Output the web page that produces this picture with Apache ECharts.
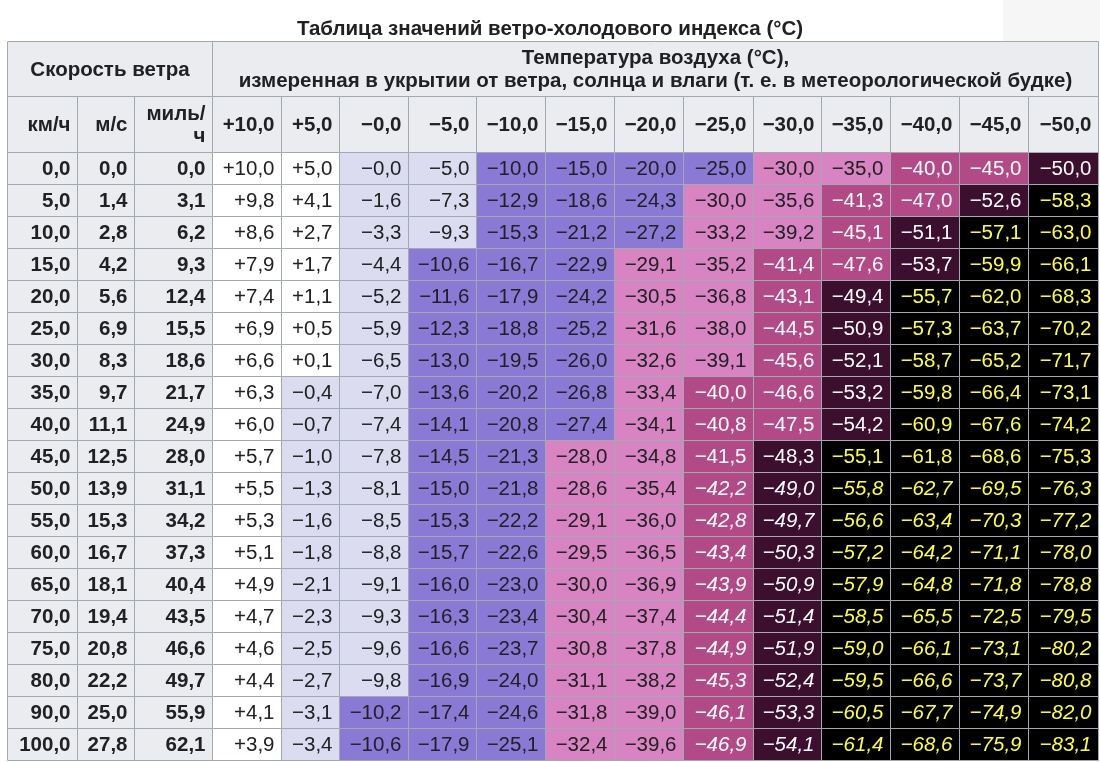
<!DOCTYPE html>
<html><head><meta charset="utf-8">
<script src="https://cdn.jsdelivr.net/npm/echarts@6/dist/echarts.min.js"></script>
<style>html,body{margin:0;padding:0;background:#fff}#c{width:1100px;height:762px}</style>
</head><body><div id="c"></div>
<script>
// ---- data ----
const titleText = 'Таблица значений ветро-холодового индекса (°C)';
const windHeader = 'Скорость ветра';
const tempHeader = 'Температура воздуха (°C),\nизмеренная в укрытии от ветра, солнца и влаги (т. е. в метеорологической будке)';
const unitLabels = ['км/ч', 'м/с', 'миль/\nч'];
const airTemps = [10, 5, -0, -5, -10, -15, -20, -25, -30, -35, -40, -45, -50];
const windKmh = [0, 5, 10, 15, 20, 25, 30, 35, 40, 45, 50, 55, 60, 65, 70, 75, 80, 90, 100];
const windMs = [0.0, 1.4, 2.8, 4.2, 5.6, 6.9, 8.3, 9.7, 11.1, 12.5, 13.9, 15.3, 16.7, 18.1, 19.4, 20.8, 22.2, 25.0, 27.8];
const windMph = [0.0, 3.1, 6.2, 9.3, 12.4, 15.5, 18.6, 21.7, 24.9, 28.0, 31.1, 34.2, 37.3, 40.4, 43.5, 46.6, 49.7, 55.9, 62.1];
const chill = [
  [10.0, 5.0, -0.0, -5.0, -10.0, -15.0, -20.0, -25.0, -30.0, -35.0, -40.0, -45.0, -50.0],
  [9.8, 4.1, -1.6, -7.3, -12.9, -18.6, -24.3, -30.0, -35.6, -41.3, -47.0, -52.6, -58.3],
  [8.6, 2.7, -3.3, -9.3, -15.3, -21.2, -27.2, -33.2, -39.2, -45.1, -51.1, -57.1, -63.0],
  [7.9, 1.7, -4.4, -10.6, -16.7, -22.9, -29.1, -35.2, -41.4, -47.6, -53.7, -59.9, -66.1],
  [7.4, 1.1, -5.2, -11.6, -17.9, -24.2, -30.5, -36.8, -43.1, -49.4, -55.7, -62.0, -68.3],
  [6.9, 0.5, -5.9, -12.3, -18.8, -25.2, -31.6, -38.0, -44.5, -50.9, -57.3, -63.7, -70.2],
  [6.6, 0.1, -6.5, -13.0, -19.5, -26.0, -32.6, -39.1, -45.6, -52.1, -58.7, -65.2, -71.7],
  [6.3, -0.4, -7.0, -13.6, -20.2, -26.8, -33.4, -40.0, -46.6, -53.2, -59.8, -66.4, -73.1],
  [6.0, -0.7, -7.4, -14.1, -20.8, -27.4, -34.1, -40.8, -47.5, -54.2, -60.9, -67.6, -74.2],
  [5.7, -1.0, -7.8, -14.5, -21.3, -28.0, -34.8, -41.5, -48.3, -55.1, -61.8, -68.6, -75.3],
  [5.5, -1.3, -8.1, -15.0, -21.8, -28.6, -35.4, -42.2, -49.0, -55.8, -62.7, -69.5, -76.3],
  [5.3, -1.6, -8.5, -15.3, -22.2, -29.1, -36.0, -42.8, -49.7, -56.6, -63.4, -70.3, -77.2],
  [5.1, -1.8, -8.8, -15.7, -22.6, -29.5, -36.5, -43.4, -50.3, -57.2, -64.2, -71.1, -78.0],
  [4.9, -2.1, -9.1, -16.0, -23.0, -30.0, -36.9, -43.9, -50.9, -57.9, -64.8, -71.8, -78.8],
  [4.7, -2.3, -9.3, -16.3, -23.4, -30.4, -37.4, -44.4, -51.4, -58.5, -65.5, -72.5, -79.5],
  [4.6, -2.5, -9.6, -16.6, -23.7, -30.8, -37.8, -44.9, -51.9, -59.0, -66.1, -73.1, -80.2],
  [4.4, -2.7, -9.8, -16.9, -24.0, -31.1, -38.2, -45.3, -52.4, -59.5, -66.6, -73.7, -80.8],
  [4.1, -3.1, -10.2, -17.4, -24.6, -31.8, -39.0, -46.1, -53.3, -60.5, -67.7, -74.9, -82.0],
  [3.9, -3.4, -10.6, -17.9, -25.1, -32.4, -39.6, -46.9, -54.1, -61.4, -68.6, -75.9, -83.1]
];

// ---- layout / style ----
const colWidths = [69.5, 57.5, 77.6, 69.1, 57.9, 69.1, 68.8, 68.5, 69, 69, 69.5, 68.5, 69, 69, 69, 70];
const rowHeights = [55, 56].concat(windKmh.map(() => 32));
const colEdges = [0]; colWidths.forEach(w => colEdges.push(colEdges[colEdges.length - 1] + w));
const rowEdges = [0]; rowHeights.forEach(h => rowEdges.push(rowEdges[rowEdges.length - 1] + h));
const FONT = '"Liberation Sans", Arial, sans-serif';
const FS = 20.5;
const HEAD_BG = '#eaecf0', BORDER = '#a2a9b1', INK = '#202122';
const classes = [
  { test: v => v > 0 && !Object.is(v, -0), bg: '#ffffff', fg: INK },
  { test: v => v > -10, bg: '#dcdcf0', fg: INK },
  { test: v => v > -27.7, bg: '#8a7ad6', fg: INK },
  { test: v => v > -39.95, bg: '#d884c2', fg: INK },
  { test: v => v > -48, bg: '#b24a88', fg: '#ffffff' },
  { test: v => v > -55, bg: '#3d0f2e', fg: '#ffffff' },
  { test: v => true, bg: '#000000', fg: '#ffff3c' }
];
const fmtSigned = v => {
  const s = Math.abs(v).toFixed(1).replace('.', ',');
  return (v > 0 ? '+' : '\u2212') + s;
};
const fmtPlain = v => v.toFixed(1).replace('.', ',');

// cell list: [col0, col1, row0, row1]
const cells = [];
const meta = [];
function add(c0, c1, r0, r1, text, opt) { cells.push([c0, c1, r0, r1]); meta.push(Object.assign({ text }, opt)); }
add(0, 3, 0, 1, windHeader, { bg: HEAD_BG, fg: INK, bold: true, align: 'center' });
add(3, 16, 0, 1, tempHeader, { bg: HEAD_BG, fg: INK, bold: true, align: 'center', lh: 23 });
unitLabels.forEach((u, i) => add(i, i + 1, 1, 2, u, { bg: HEAD_BG, fg: INK, bold: true, align: 'right', lh: 22 }));
airTemps.forEach((t, j) => add(3 + j, 4 + j, 1, 2, fmtSigned(t), { bg: HEAD_BG, fg: INK, bold: true, align: 'right' }));
windKmh.forEach((w, r) => {
  const row = r + 2;
  add(0, 1, row, row + 1, fmtPlain(w), { bg: HEAD_BG, fg: INK, bold: true, align: 'right' });
  add(1, 2, row, row + 1, fmtPlain(windMs[r]), { bg: HEAD_BG, fg: INK, bold: true, align: 'right' });
  add(2, 3, row, row + 1, fmtPlain(windMph[r]), { bg: HEAD_BG, fg: INK, bold: true, align: 'right' });
  chill[r].forEach((v, j) => {
    const cls = classes.find(c => c.test(v));
    add(3 + j, 4 + j, row, row + 1, fmtSigned(v), { bg: cls.bg, fg: cls.fg, align: 'right', italic: (w >= 50 && v <= -40) });
  });
});

const chart = echarts.init(document.getElementById('c'), null, { renderer: 'canvas' });
chart.setOption({
  backgroundColor: '#ffffff',
  animation: false,
  title: {
    text: titleText, left: 'center', top: 14,
    textStyle: { fontFamily: FONT, fontSize: 20.5, fontWeight: 'bold', color: INK }
  },
  graphic: [{ type: 'rect', left: 1003, top: 0, shape: { width: 97, height: 41 }, style: { fill: '#f6f6f7' }, z: -1 }],
  grid: { left: 7, top: 41, width: colEdges[colEdges.length - 1], height: rowEdges[rowEdges.length - 1] },
  xAxis: { type: 'value', min: 0, max: colEdges[colEdges.length - 1], show: false },
  yAxis: { type: 'value', min: 0, max: rowEdges[rowEdges.length - 1], inverse: true, show: false },
  series: [{
    type: 'custom',
    data: cells,
    encode: { x: [0, 1], y: [2, 3] },
    renderItem: function (params, api) {
      const m = meta[params.dataIndex];
      const p0 = api.coord([colEdges[api.value(0)], rowEdges[api.value(2)]]);
      const p1 = api.coord([colEdges[api.value(1)], rowEdges[api.value(3)]]);
      const x = Math.round(p0[0]) + 0.5, y = Math.round(p0[1]) + 0.5;
      const w = Math.round(p1[0]) - Math.round(p0[0]), h = Math.round(p1[1]) - Math.round(p0[1]);
      const tx = m.align === 'center' ? x + w / 2 : x + w - 7;
      return {
        type: 'group',
        children: [
          { type: 'rect', shape: { x: x, y: y, width: w, height: h }, style: { fill: m.bg, stroke: BORDER, lineWidth: 1 } },
          { type: 'text', style: {
              text: m.text, x: tx, y: y + h / 2 + 1,
              align: m.align, verticalAlign: 'middle',
              fill: m.fg, fontFamily: FONT, fontSize: FS,
              fontWeight: m.bold ? 'bold' : 'normal', fontStyle: m.italic ? 'italic' : 'normal',
              lineHeight: m.lh || FS + 4
            } }
        ]
      };
    }
  }]
});
</script></body></html>
